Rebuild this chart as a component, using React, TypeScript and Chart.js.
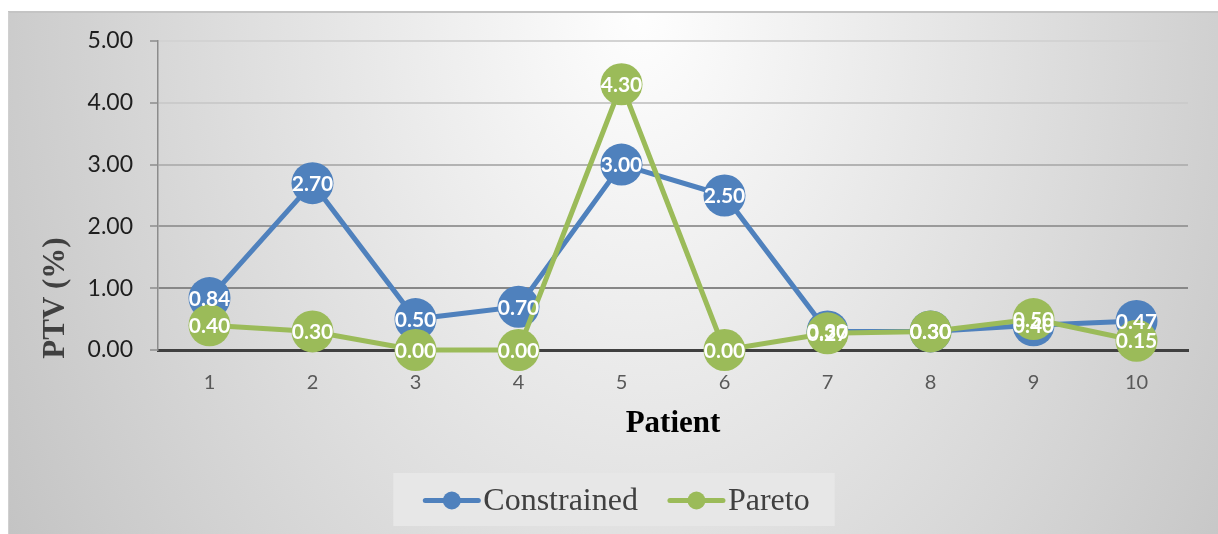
import React, { useEffect, useRef } from "react";
import { Chart, registerables } from "chart.js";

Chart.register(...registerables);

// Patient numbers on the category axis
const patients = ["1", "2", "3", "4", "5", "6", "7", "8", "9", "10"];
// PTV (%) per patient for each plan type
const constrainedValues = [0.84, 2.7, 0.5, 0.7, 3.0, 2.5, 0.3, 0.3, 0.4, 0.47];
const paretoValues = [0.4, 0.3, 0.0, 0.0, 4.3, 0.0, 0.27, 0.3, 0.5, 0.15];
// Value axis ticks
const yTicks = [0, 1, 2, 3, 4, 5];

const BLUE = "#4F81BD";
const GREEN = "#9BBB59";

// Gridline shades from the zero line upward
const gridShades = ["rgba(0,0,0,0)", "#878787", "#9a9a9a", "#b3b3b3", "#cbcbcb", "#d3d3d3"];

// Grey panel with a soft radial highlight near the top centre
const panelBackground = {
  id: "panelBackground",
  beforeDraw(chart: any) {
    const { ctx, width, height } = chart;
    ctx.save();
    ctx.fillStyle = "#ffffff";
    ctx.fillRect(0, 0, width, height);
    const x0 = 8;
    const y0 = 12;
    ctx.beginPath();
    ctx.rect(x0, y0, width - x0, height - y0);
    ctx.clip();
    ctx.translate(640, 12);
    ctx.scale(1, 1.43);
    const g = ctx.createRadialGradient(0, 0, 0, 0, 0, 740);
    g.addColorStop(0, "#fefefe");
    g.addColorStop(1, "#c3c3c3");
    ctx.fillStyle = g;
    ctx.fillRect(-700, -20, 1400, 420);
    ctx.restore();

    ctx.save();
    ctx.strokeStyle = "#c4c4c4";
    ctx.lineWidth = 2;
    ctx.beginPath();
    ctx.moveTo(x0, y0);
    ctx.lineTo(width, y0);
    ctx.stroke();
    ctx.lineWidth = 1;
    ctx.strokeStyle = "#d0d0d0";
    ctx.beginPath();
    ctx.moveTo(x0 + 0.5, y0);
    ctx.lineTo(x0 + 0.5, height);
    ctx.stroke();
    ctx.restore();
  },
};

// Value labels centred on each marker
const valueLabels = {
  id: "valueLabels",
  afterDatasetsDraw(chart: any) {
    const { ctx } = chart;
    ctx.save();
    ctx.font = "bold 21px Lato";
    ctx.fillStyle = "#ffffff";
    ctx.textAlign = "center";
    ctx.textBaseline = "middle";
    chart.data.datasets.forEach((ds: any, i: number) => {
      const meta = chart.getDatasetMeta(i);
      meta.data.forEach((pt: any, j: number) => {
        const v = ds.data[j] as number;
        ctx.fillText(v.toFixed(2), pt.x, pt.y + 1);
      });
    });
    ctx.restore();
  },
};

// Rotated value-axis title
const valueAxisTitle = {
  id: "valueAxisTitle",
  afterDraw(chart: any) {
    const { ctx } = chart;
    ctx.save();
    ctx.translate(56, 298);
    ctx.rotate(-Math.PI / 2);
    ctx.font = "bold 31px 'Liberation Serif'";
    ctx.fillStyle = "#404040";
    ctx.textAlign = "center";
    ctx.textBaseline = "middle";
    ctx.fillText("PTV (%)", 0, 0);
    ctx.restore();
  },
};

// Legend with line-and-marker swatches on a light box below the plot
const lineLegend = {
  id: "lineLegend",
  afterDraw(chart: any) {
    const { ctx } = chart;
    const items = chart.data.datasets.map((ds: any) => ({
      label: ds.label as string,
      color: ds.borderColor as string,
    }));
    ctx.save();
    ctx.font = "32px 'Liberation Serif'";
    const swatch = 57;
    const gap = 3;
    const itemGap = 30;
    const padX = 30;
    const widths = items.map((it: any) => ctx.measureText(it.label).width);
    const inner =
      widths.reduce((a: number, w: number) => a + swatch + gap + w, 0) + itemGap * (items.length - 1);
    const boxW = inner + padX * 2 - 5;
    const cx = 614;
    const boxX = cx - boxW / 2;
    const boxY = 473;
    const boxH = 53;
    ctx.fillStyle = "#e7e7e7";
    ctx.fillRect(boxX, boxY, boxW, boxH);
    const cy = boxY + boxH / 2 + 1;
    let x = boxX + padX;
    items.forEach((it: any, i: number) => {
      ctx.strokeStyle = it.color;
      ctx.lineWidth = 5;
      ctx.lineCap = "round";
      ctx.beginPath();
      ctx.moveTo(x + 2, cy);
      ctx.lineTo(x + swatch - 2, cy);
      ctx.stroke();
      ctx.fillStyle = it.color;
      ctx.beginPath();
      ctx.arc(x + swatch / 2, cy, 9, 0, Math.PI * 2);
      ctx.fill();
      ctx.fillStyle = "#404040";
      ctx.textAlign = "left";
      ctx.textBaseline = "middle";
      ctx.fillText(it.label, x + swatch + gap, cy + 1);
      x += swatch + gap + widths[i] + itemGap;
    });
    ctx.restore();
  },
};

export default function App() {
  const canvasRef = useRef<HTMLCanvasElement | null>(null);

  useEffect(() => {
    if (!canvasRef.current) return;
    const chart = new Chart(canvasRef.current, {
      type: "line",
      data: {
        labels: patients,
        datasets: [
          {
            label: "Constrained",
            data: constrainedValues,
            borderColor: BLUE,
            backgroundColor: BLUE,
            borderWidth: 5,
            pointRadius: 21,
            pointHoverRadius: 21,
            pointBorderWidth: 0,
            pointBackgroundColor: BLUE,
            tension: 0,
            clip: false,
            order: 1,
          },
          {
            label: "Pareto",
            data: paretoValues,
            borderColor: GREEN,
            backgroundColor: GREEN,
            borderWidth: 5,
            pointRadius: 21,
            pointHoverRadius: 21,
            pointBorderWidth: 0,
            pointBackgroundColor: GREEN,
            tension: 0,
            clip: false,
            order: 0,
          },
        ],
      },
      options: {
        responsive: false,
        animation: false,
        events: [],
        layout: { padding: { left: 0, right: 30, top: 41, bottom: 91 } },
        plugins: {
          legend: { display: false },
          tooltip: { enabled: false },
        },
        scales: {
          x: {
            offset: true,
            grid: { display: false, drawTicks: false },
            border: { display: true, color: "#404040", width: 3 },
            ticks: {
              color: "#595959",
              font: { family: "Lato", size: 20 },
              padding: 21,
            },
            title: {
              display: true,
              text: "Patient",
              color: "#000000",
              font: { family: "'Liberation Serif'", size: 31, weight: "bold", lineHeight: 1.2 },
              padding: { top: 4, bottom: 0 },
            },
            afterFit: (scale: any) => {
              scale.height = 93;
            },
          },
          y: {
            min: yTicks[0],
            max: yTicks[yTicks.length - 1],
            afterBuildTicks: (scale: any) => {
              scale.ticks = yTicks.map((v) => ({ value: v }));
            },
            grid: {
              color: (c: any) => gridShades[c.index] ?? "#cccccc",
              lineWidth: 2,
              tickLength: 8,
              tickColor: "#8c8c8c",
              tickWidth: 1.5,
            },
            border: { display: true, color: "#8c8c8c", width: 1.5 },
            ticks: {
              color: "#1e1e1e",
              font: { family: "Lato", size: 23 },
              padding: 17,
              callback: (v: any) => Number(v).toFixed(2),
            },
            afterFit: (scale: any) => {
              scale.width = 158;
            },
          },
        },
      },
      plugins: [panelBackground, valueLabels, valueAxisTitle, lineLegend],
    });
    return () => chart.destroy();
  }, []);

  return (
    <div style={{ position: "fixed", left: 0, top: 0, width: 1218, height: 534 }}>
      <canvas ref={canvasRef} width={1218} height={534} style={{ width: 1218, height: 534, display: "block" }} />
    </div>
  );
}
